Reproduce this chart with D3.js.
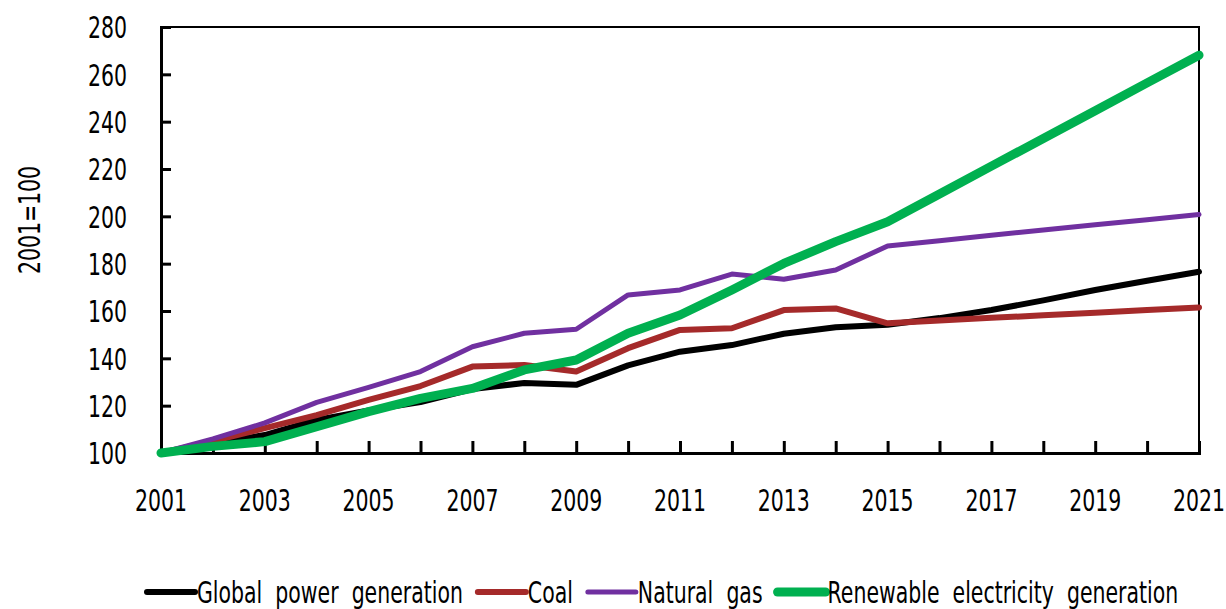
<!DOCTYPE html>
<html>
<head>
<meta charset="utf-8">
<script src="https://cdn.jsdelivr.net/npm/d3@7"></script>
<style>
  body { margin: 0; background: #fff; }
  svg text { font-family: "DejaVu Sans", "Liberation Sans", sans-serif; fill: #000; }
</style>
</head>
<body>
<div id="chart"></div>
<script>
// years on x axis
const years = d3.range(2001, 2022);
const tickYears = [2001, 2003, 2005, 2007, 2009, 2011, 2013, 2015, 2017, 2019, 2021];
const yTicks = [100, 120, 140, 160, 180, 200, 220, 240, 260, 280];

// index values, 2001 = 100
const globalPower = [100, 104, 107.6, 114, 118, 121.5, 127, 129.6, 128.8, 137, 142.8, 145.6, 150.4, 153.1, 154.2, 157, 160.4, 164.5, 168.9, 172.8, 176.6];
const coal        = [100, 105, 110.5, 116, 122.4, 128.3, 136.5, 137.2, 134.4, 144.3, 152, 152.7, 160.4, 161.1, 154.8, 156, 157.1, 158.2, 159.3, 160.4, 161.5];
const naturalGas  = [100, 106, 112.7, 121.4, 127.7, 134.4, 144.9, 150.6, 152.3, 166.8, 168.9, 175.6, 173.4, 177.3, 187.5, 189.7, 192, 194.2, 196.4, 198.6, 200.8];
const renewables  = [100, 102.8, 104.8, 111.1, 117.5, 123.1, 127.3, 135.1, 139.3, 150.6, 158.3, 168.9, 180.1, 189.3, 197.7, 209.4, 221.2, 232.9, 244.6, 256.4, 268.1];

const seriesNames = ["Global power generation", "Coal", "Natural gas", "Renewable electricity generation"];
const seriesColors = ["#000000", "#A52A2A", "#7030A0", "#00B050"];
const seriesWidths = [6, 6, 5, 9];
const seriesValues = [globalPower, coal, naturalGas, renewables];

const W = 1226, H = 609;
const margin = {top: 27, right: 27, bottom: 156, left: 161};
const width = W - margin.left - margin.right;
const height = H - margin.top - margin.bottom;

// the original font is a narrow one, squeeze the text horizontally
const SQUEEZE = 0.66;

function addText(parent, x, y, str, opts = {}) {
    const rot = opts.rotate ? ` rotate(${opts.rotate})` : "";
    return parent.append("text")
        .attr("transform", `translate(${x},${y})${rot} scale(${SQUEEZE},1)`)
        .attr("text-anchor", opts.anchor || "start")
        .attr("dy", opts.dy || null)
        .style("font-size", (opts.size || 31) + "px")
        .style("word-spacing", opts.wordSpacing || null)
        .text(str);
}

const svg = d3.select("#chart").append("svg")
    .attr("width", W)
    .attr("height", H);

const g = svg.append("g")
    .attr("transform", `translate(${margin.left},${margin.top})`);

const x = d3.scaleLinear().domain([2001, 2021]).range([0, width]);
const y = d3.scaleLinear().domain([100, 280]).range([height, 0]);

// lines
const line = d3.line()
    .x((d, i) => x(years[i]))
    .y(d => y(d));

const series = seriesNames.map((name, i) => ({
    name, color: seriesColors[i], width: seriesWidths[i], values: seriesValues[i]
}));

// frame
g.append("rect")
    .attr("width", width)
    .attr("height", height)
    .attr("fill", "none")
    .attr("stroke", "#000")
    .attr("stroke-width", 2);

// y axis, ticks point inward
const yAxis = d3.axisRight(y).tickValues(yTicks).tickSize(10).tickFormat("");
const yG = g.append("g").call(yAxis);
yG.select(".domain").attr("stroke-width", 3);
yG.selectAll(".tick line").attr("stroke-width", 3);

yTicks.forEach(v => {
    addText(g, -34, y(v), v, {anchor: "end", dy: "0.36em"});
});

// x axis, one tick per year pointing up, labels every two years
const xAxis = d3.axisTop(x).tickValues(years).tickSize(12).tickFormat("");
const xG = g.append("g")
    .attr("transform", `translate(0,${height})`)
    .call(xAxis);
xG.select(".domain").attr("stroke-width", 3);
xG.selectAll(".tick line").attr("stroke-width", 3);

tickYears.forEach(yr => {
    addText(g, x(yr), height + 58, yr, {anchor: "middle"});
});

g.selectAll(".series")
    .data(series)
    .enter().append("path")
    .attr("class", "series")
    .attr("fill", "none")
    .attr("stroke", d => d.color)
    .attr("stroke-width", d => d.width)
    .attr("stroke-linejoin", "round")
    .attr("stroke-linecap", "round")
    .attr("d", d => line(d.values));

// y title
addText(svg, 40, 220, "2001=100", {anchor: "middle", rotate: -90});

// legend
const legend = svg.append("g").attr("transform", "translate(147,592)");
let lx = 0;
series.forEach(s => {
    legend.append("line")
        .attr("x1", lx).attr("x2", lx + 48)
        .attr("y1", 0).attr("y2", 0)
        .attr("stroke", s.color)
        .attr("stroke-width", s.width)
        .attr("stroke-linecap", "round");
    const t = addText(legend, lx + 50, 11, s.name, {size: 31, wordSpacing: "10px"});
    lx += 50 + t.node().getBBox().width * SQUEEZE + 15;
});
</script>
</body>
</html>
